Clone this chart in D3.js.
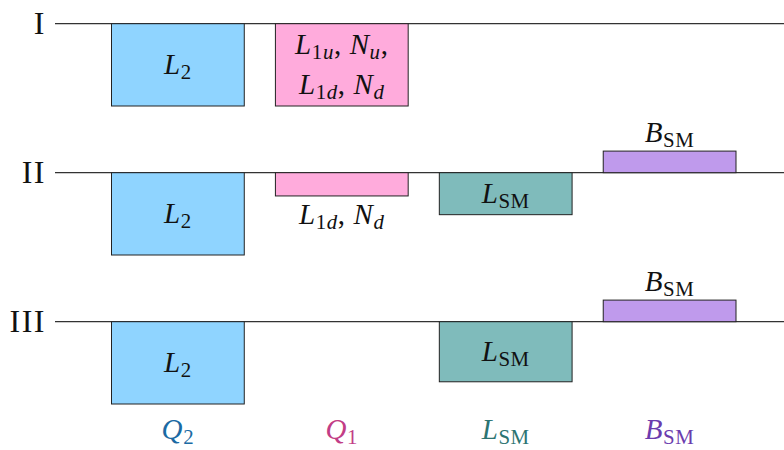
<!DOCTYPE html>
<html>
<head>
<meta charset="utf-8">
<script src="https://cdn.jsdelivr.net/npm/d3@7"></script>
<style>
  body { margin: 0; background: #fff; }
  svg { display: block; font-family: "Liberation Serif", "DejaVu Serif", serif; }
</style>
</head>
<body>
<svg id="chart" width="784" height="450"></svg>
<script>
// rows and columns of the diagram
const rows = ["I", "II", "III"];
const columns = ["Q2", "Q1", "LSM", "BSM"];

// bar values per row (negative = below the line)
const rowI = [-4, -4, 0, 0];
const rowII = [-4, -1.13, -2.04, 1.05];
const rowIII = [-4, 0, -2.92, 1.05];
const rowValues = [rowI, rowII, rowIII];

// label pieces: [text, style]  i = italic, r = roman, sub = subscript roman, subi = subscript italic
const lblL2 = [["L", "i"], ["2", "sub"]];
const lblLSM = [["L", "i"], ["SM", "sub"]];
const lblBSM = [["B", "i"], ["SM", "sub"]];
const lblQ1a = [["L", "i"], ["1", "sub"], ["u", "subi"], [", ", "r"], ["N", "i"], ["u", "subi"], [",", "r"]];
const lblQ1b = [["L", "i"], ["1", "sub"], ["d", "subi"], [", ", "r"], ["N", "i"], ["d", "subi"]];
const columnTitles = [
  [["Q", "i"], ["2", "sub"]],
  [["Q", "i"], ["1", "sub"]],
  [["L", "i"], ["SM", "sub"]],
  [["B", "i"], ["SM", "sub"]]
];

const fills = ["#8fd4ff", "#ffabdc", "#7fbbbb", "#bf9aec"];
const titleColors = ["#1b6aa3", "#c23d86", "#2c7472", "#6b3cae"];

const svg = d3.select("#chart");

const x = d3.scaleBand().domain(columns).range([111.5, 736]).paddingInner(0.19).paddingOuter(0);
const yRow = d3.scalePoint().domain(rows).range([23.7, 321.7]);
const h = d3.scaleLinear().domain([0, 4]).range([0, 82.3]);

// write a math-like label made of tspans
function mathText(g, parts, cx, y, size, color) {
  const t = g.append("text")
    .attr("x", cx).attr("y", y)
    .attr("text-anchor", "middle")
    .attr("font-size", size)
    .attr("letter-spacing", 0.6)
    .attr("fill", color || "#111");
  parts.forEach(([s, k]) => {
    const ts = t.append("tspan").text(s);
    if (k === "i") ts.attr("font-style", "italic");
    if (k === "sub" || k === "subi") {
      ts.attr("font-size", size * 0.72).attr("baseline-shift", "-22%");
      if (k === "subi") ts.attr("font-style", "italic");
    }
  });
  return t;
}

// baselines and row labels
rows.forEach((r) => {
  svg.append("line")
    .attr("x1", 55).attr("x2", 784)
    .attr("y1", yRow(r)).attr("y2", yRow(r))
    .attr("stroke", "#333").attr("stroke-width", 1.2);
  svg.append("text")
    .attr("x", 46).attr("y", yRow(r) + 10)
    .attr("text-anchor", "end")
    .attr("font-size", 32)
    .attr("letter-spacing", 1.5)
    .attr("fill", "#111")
    .text(r);
});

// bars
rowValues.forEach((vals, ri) => {
  const base = yRow(rows[ri]);
  vals.forEach((v, ci) => {
    if (v === 0) return;
    const top = v < 0 ? base : base - h(v);
    svg.append("rect")
      .attr("x", x(columns[ci]))
      .attr("y", top)
      .attr("width", x.bandwidth())
      .attr("height", h(Math.abs(v)))
      .attr("fill", fills[ci])
      .attr("stroke", "#222")
      .attr("stroke-width", 1);
  });
});

const cx = (c) => x(c) + x.bandwidth() / 2;
const fs = 29;

// labels inside / next to bars
rows.forEach((r, ri) => {
  const base = yRow(r);
  const vals = rowValues[ri];
  mathText(svg, lblL2, cx("Q2"), base + h(-vals[0]) / 2 + 9, fs);
  if (ri === 0) {
    mathText(svg, lblQ1a, cx("Q1"), base + 30, fs);
    mathText(svg, lblQ1b, cx("Q1"), base + 70, fs);
  }
  if (ri === 1) {
    mathText(svg, lblQ1b, cx("Q1"), base + h(-vals[1]) + 28, fs);
  }
  if (vals[2] < 0) {
    mathText(svg, lblLSM, cx("LSM"), base + h(-vals[2]) / 2 + 9, fs);
  }
  if (vals[3] > 0) {
    mathText(svg, lblBSM, cx("BSM"), base - h(vals[3]) - 9, fs);
  }
});

// column titles at the bottom
columns.forEach((c, ci) => {
  mathText(svg, columnTitles[ci], cx(c), 439, fs, titleColors[ci]);
});
</script>
</body>
</html>
